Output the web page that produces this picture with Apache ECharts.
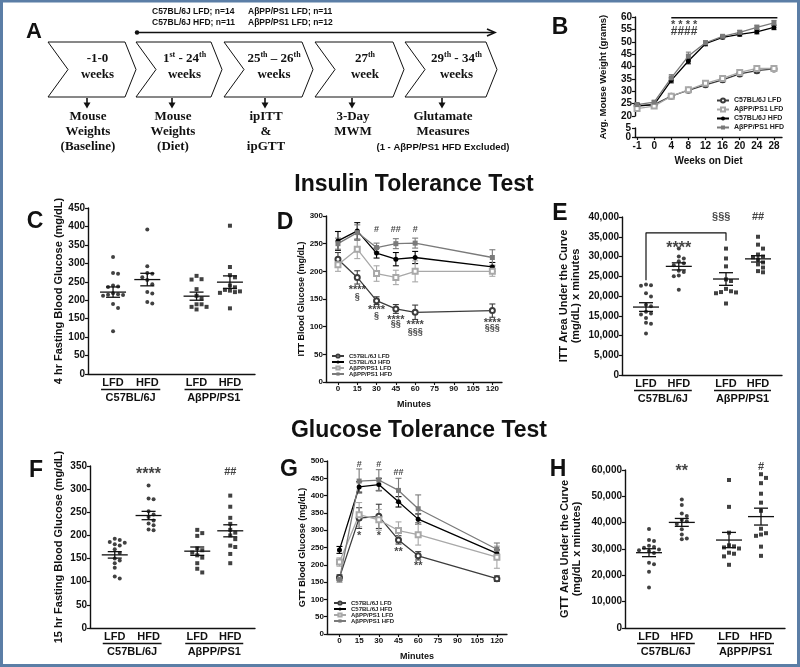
<!DOCTYPE html>
<html>
<head>
<meta charset="utf-8">
<script src="https://cdn.jsdelivr.net/npm/echarts@6/dist/echarts.min.js"></script>
<style>
html, body { margin: 0; padding: 0; background: #fff; }
#figure { width: 800px; height: 667px; }
</style>
</head>
<body>
<div id="figure"></div>
<script>
// ---------- data ----------
var groupNames = ['C57BL/6J LFD', 'C57BL/6J HFD', 'AβPP/PS1 LFD', 'AβPP/PS1 HFD'];
var dietLabels = ['LFD', 'HFD', 'LFD', 'HFD'];
var strainLabels = ['C57BL/6J', 'AβPP/PS1'];

// B: body weight
var weekLabels = ['-1', '0', '4', '8', '12', '16', '20', '24', '28'];
var weightC57Lfd = [24.2, 24.6, 28.0, 30.4, 32.6, 34.6, 37.0, 38.3, 39.0];
var weightC57LfdErr = [0.6, 0.5, 0.5, 0.6, 0.7, 0.8, 0.8, 0.9, 0.9];
var weightApLfd = [23.0, 24.0, 28.0, 30.6, 33.2, 35.2, 37.6, 39.2, 39.2];
var weightApLfdErr = [0.7, 0.6, 0.6, 0.7, 0.8, 0.8, 0.9, 1.0, 1.0];
var weightC57Hfd = [24.0, 24.6, 34.4, 42.2, 49.2, 51.8, 53.0, 54.0, 55.8];
var weightC57HfdErr = [0.5, 0.6, 1.0, 1.1, 0.8, 0.6, 0.7, 0.8, 0.9];
var weightApHfd = [24.6, 25.6, 35.4, 44.2, 49.6, 52.2, 53.8, 55.8, 57.6];
var weightApHfdErr = [0.6, 0.6, 1.3, 1.6, 0.8, 0.6, 0.8, 0.9, 1.0];
var weightLowTicks = [0, 5];
var weightAnnot = [['* * * *', 2.75, 57.6], ['####', 2.75, 53.9]];

// C: 4 hr fasting glucose
var cC57Lfd = [317, 274, 272, 240, 237, 236, 219, 216, 215, 214, 212, 190, 179, 116];
var cC57Hfd = [392, 292, 274, 272, 262, 243, 222, 218, 195, 191, 255];
var cApLfd = [266, 257, 256, 230, 212, 205, 189, 182, 175, 182, 189];
var cApHfd = [402, 290, 268, 262, 240, 235, 228, 226, 224, 222, 220, 178];
var cMean = [222, 256, 211, 249];
var cSem = [14, 17, 11, 17];

// D: ITT time course
var minutes = [0, 15, 30, 45, 60, 120];
var minuteTicks = [0, 15, 30, 45, 60, 75, 90, 105, 120];
var ittC57Lfd = [222, 189, 147, 132, 126, 129];
var ittC57LfdErr = [12, 12, 7, 8, 13, 12];
var ittC57Hfd = [255, 273, 233, 222, 225, 208];
var ittC57HfdErr = [17, 15, 9, 12, 11, 8];
var ittApLfd = [212, 240, 196, 189, 200, 200];
var ittApLfdErr = [12, 17, 14, 13, 19, 9];
var ittApHfd = [250, 270, 243, 250, 251, 225];
var ittApHfdErr = [10, 14, 8, 9, 9, 14];
var ittAnnot = [
  ['#', 30, 275], ['##', 45, 275], ['#', 60, 275],
  ['****', 15, 170], ['§', 15, 154],
  ['****', 30, 134], ['§', 30, 121],
  ['****', 45, 116], ['§§', 45, 105],
  ['****', 60, 107], ['§§§', 60, 91],
  ['****', 120, 111], ['§§§', 120, 98]
];

// E: ITT area under the curve
var eC57Lfd = [22900, 22700, 22600, 20700, 19900, 17800, 17400, 16000, 15600, 15300, 14400, 13200, 13000, 10500];
var eC57Hfd = [32000, 30000, 29500, 28800, 28300, 27800, 26400, 26100, 25200, 25000, 21600];
var eApLfd = [32000, 29500, 27500, 24200, 23800, 21800, 21200, 21000, 20900, 20700, 18100];
var eApHfd = [35000, 33000, 32000, 30500, 30000, 29800, 29200, 28500, 28000, 27200, 26300, 26000];
var eMean = [17200, 27500, 24300, 29400];
var eSem = [1100, 900, 1600, 800];
var eAnnot = [['****', 3.55, 32800], ['§§§', 6.2, 39900], ['##', 8.5, 39900]];
var eBracket = [[1.5, 24000], [1.5, 36000], [6.5, 36000], [6.5, 34000]];

// F: 15 hr fasting glucose
var fC57Lfd = [193, 190, 186, 184, 181, 178, 170, 162, 150, 146, 140, 130, 111, 107];
var fC57Hfd = [308, 280, 278, 252, 245, 240, 232, 226, 222, 213, 211];
var fApLfd = [212, 205, 199, 172, 168, 163, 157, 152, 140, 128, 120];
var fApHfd = [286, 262, 238, 225, 212, 206, 200, 192, 178, 175, 160, 140];
var fMean = [158, 243, 166, 210];
var fSem = [7, 9, 9, 13];
var fAnnot = [['****', 3.55, 338], ['##', 8.5, 337]];

// G: GTT time course
var gttC57Lfd = [163, 335, 340, 272, 226, 160];
var gttC57LfdErr = [8, 30, 35, 12, 12, 8];
var gttC57Hfd = [243, 425, 432, 382, 332, 233];
var gttC57HfdErr = [10, 15, 18, 15, 15, 10];
var gttApLfd = [208, 345, 330, 299, 287, 222];
var gttApLfdErr = [12, 35, 30, 25, 30, 32];
var gttApHfd = [158, 442, 445, 415, 362, 245];
var gttApHfdErr = [8, 35, 30, 35, 40, 18];
var gttAnnot = [
  ['#', 15, 491], ['#', 30, 491], ['##', 45, 468],
  ['*', 15, 289], ['*', 30, 289], ['**', 45, 243], ['**', 60, 203]
];

// H: GTT area under the curve
var hC57Lfd = [37600, 33400, 33000, 31200, 30800, 30500, 29800, 29500, 29200, 28500, 24800, 24200, 21400, 15400];
var hC57Hfd = [48800, 46700, 43500, 42500, 41000, 40500, 39500, 37500, 35500, 34000, 33700];
var hApLfd = [56200, 46000, 36200, 31400, 31000, 30600, 30200, 28600, 28200, 27200, 24000];
var hApHfd = [58400, 57000, 55000, 51000, 47600, 44500, 37700, 36000, 35500, 35000, 30900, 27400];
var hMean = [28600, 40100, 33400, 42300];
var hSem = [1500, 1500, 2900, 3200];
var hAnnot = [['**', 3.55, 60600], ['#', 8.5, 61000]];

// ---------- layout ----------
var FONT = 'Liberation Sans';
var INK = '#111';
var slotPos = [1.5, 3.55, 6.5, 8.5];
var grids = [
  { left: 635, top: 17, width: 147, height: 99 },   // 0 B upper
  { left: 635, top: 128, width: 147, height: 9 },   // 1 B lower
  { left: 88, top: 208, width: 167, height: 166 },  // 2 C
  { left: 326, top: 216, width: 176, height: 166 }, // 3 D
  { left: 622, top: 217, width: 160, height: 158 }, // 4 E
  { left: 90, top: 466, width: 165, height: 162 },  // 5 F
  { left: 327, top: 461, width: 180, height: 173 }, // 6 G
  { left: 625, top: 470, width: 160, height: 158 }  // 7 H
];
var lineLook = [
  { color: '#3c3c3c', symbol: 'emptyCircle' },
  { color: '#000000', symbol: 'circle' },
  { color: '#a8a8a8', symbol: 'emptyRect' },
  { color: '#7a7a7a', symbol: 'rect' }
];

function commas(v) {
  return String(v).replace(/\B(?=(\d{3})+(?!\d))/g, ',');
}

function yAx(gi, min, max, interval, extra) {
  var ax = {
    type: 'value', gridIndex: gi, min: min, max: max, interval: interval,
    axisLine: { show: true, onZero: false, lineStyle: { color: INK, width: 1.4 } },
    axisTick: { show: true, length: 3, lineStyle: { color: INK, width: 1.2 } },
    axisLabel: { fontSize: 10, fontWeight: 'bold', color: INK, margin: 3, fontFamily: FONT, showMinLabel: true, showMaxLabel: true },
    splitLine: { show: false },
    nameTextStyle: { fontSize: 11, fontWeight: 'bold', color: INK, fontFamily: FONT }
  };
  return Object.assign(ax, extra || {});
}

function xSlots(gi) {
  return {
    type: 'value', gridIndex: gi, min: 0, max: 10,
    axisLine: { show: true, onZero: false, lineStyle: { color: INK, width: 1.4 } },
    axisTick: { show: false },
    splitLine: { show: false },
    axisLabel: {
      customValues: slotPos, margin: 3, fontSize: 11, fontWeight: 'bold', color: INK, fontFamily: FONT,
      formatter: function (v) {
        var best = 0;
        slotPos.forEach(function (s, i) { if (Math.abs(s - v) < Math.abs(slotPos[best] - v)) best = i; });
        return dietLabels[best];
      }
    }
  };
}

function xMinutes(gi, min, max) {
  return {
    type: 'value', gridIndex: gi, min: min, max: max,
    name: 'Minutes', nameLocation: 'middle', nameGap: 18,
    nameTextStyle: { fontSize: 9, fontWeight: 'bold', color: INK, fontFamily: FONT },
    axisLine: { show: true, onZero: false, lineStyle: { color: INK, width: 1.3 } },
    axisTick: { show: true, length: 3, customValues: minuteTicks, lineStyle: { color: INK, width: 1.1 } },
    splitLine: { show: false },
    axisLabel: { customValues: minuteTicks, margin: 3, fontSize: 8, fontWeight: 'bold', color: INK, fontFamily: FONT }
  };
}

// simple beeswarm so that dots with similar values sit side by side
function swarm(values, slot, grid, yMax) {
  var pyPer = grid.height / yMax;
  var pxPer = grid.width / 10;
  var step = 5, dist = 4.6;
  var placed = [];
  values.slice().sort(function (a, b) { return b - a; }).forEach(function (v) {
    var py = v * pyPer;
    for (var k = 0; k < 40; k++) {
      var off = k === 0 ? 0 : Math.ceil(k / 2) * step * (k % 2 ? 1 : -1);
      var ok = placed.every(function (p) {
        var dx = p[0] - off, dy = p[1] - py;
        return dx * dx + dy * dy >= dist * dist;
      });
      if (ok) { placed.push([off, py, v]); break; }
    }
  });
  return placed.map(function (p) { return [slot + p[0] / pxPer, p[2]]; });
}

function errSeries(ai, xs, ys, errs, color, cap) {
  return {
    type: 'custom', xAxisIndex: ai, yAxisIndex: ai, silent: true, z: 2, clip: false,
    encode: { x: 0, y: [1, 2] },
    data: xs.map(function (x, i) { return [x, ys[i] - errs[i], ys[i] + errs[i]]; }),
    renderItem: function (params, api) {
      var lo = api.coord([api.value(0), api.value(1)]);
      var hi = api.coord([api.value(0), api.value(2)]);
      var s = { stroke: color, lineWidth: 1.1 };
      return {
        type: 'group', children: [
          { type: 'line', shape: { x1: lo[0], y1: lo[1], x2: hi[0], y2: hi[1] }, style: s },
          { type: 'line', shape: { x1: lo[0] - cap, y1: lo[1], x2: lo[0] + cap, y2: lo[1] }, style: s },
          { type: 'line', shape: { x1: hi[0] - cap, y1: hi[1], x2: hi[0] + cap, y2: hi[1] }, style: s }
        ]
      };
    }
  };
}

function meanSemSeries(ai, means, sems) {
  return {
    type: 'custom', xAxisIndex: ai, yAxisIndex: ai, silent: true, z: 4,
    encode: { x: 0, y: 1 },
    data: means.map(function (m, i) { return [slotPos[i], m, sems[i]]; }),
    renderItem: function (params, api) {
      var x = api.value(0), m = api.value(1), e = api.value(2);
      var c = api.coord([x, m]), lo = api.coord([x, m - e]), hi = api.coord([x, m + e]);
      var s = { stroke: INK, lineWidth: 1.3 };
      return {
        type: 'group', children: [
          { type: 'line', shape: { x1: c[0] - 13, y1: c[1], x2: c[0] + 13, y2: c[1] }, style: s },
          { type: 'line', shape: { x1: lo[0], y1: lo[1], x2: hi[0], y2: hi[1] }, style: s },
          { type: 'line', shape: { x1: lo[0] - 7, y1: lo[1], x2: lo[0] + 7, y2: lo[1] }, style: s },
          { type: 'line', shape: { x1: hi[0] - 7, y1: hi[1], x2: hi[0] + 7, y2: hi[1] }, style: s }
        ]
      };
    }
  };
}

function textSeries(ai, items, size, starSize) {
  return {
    type: 'scatter', xAxisIndex: ai, yAxisIndex: ai, silent: true, clip: false, z: 5,
    symbolSize: 1, itemStyle: { color: 'rgba(0,0,0,0)' },
    data: items.map(function (t) {
      var isStar = t[0].indexOf('*') >= 0;
      var fs = isStar ? starSize : size;
      return {
        value: [t[1], t[2]],
        label: {
          show: true, position: 'inside', formatter: t[0], fontSize: fs, fontWeight: 'bold',
          color: INK, fontFamily: FONT, offset: [0, isStar ? fs * 0.22 : 0]
        }
      };
    })
  };
}

function lineSeries(ai, name, xs, ys, look, size) {
  return {
    type: 'line', name: name, xAxisIndex: ai, yAxisIndex: ai, z: 3,
    data: xs.map(function (x, i) { return [x, ys[i]]; }),
    symbol: look.symbol, symbolSize: size, showSymbol: true,
    itemStyle: { color: look.color, borderWidth: 1.2 },
    lineStyle: { color: look.color, width: 1.3 }
  };
}

var weekIdx = weekLabels.map(function (w, i) { return i; });

var series = [];
// B
[[weightC57Lfd, weightC57LfdErr], [weightC57Hfd, weightC57HfdErr], [weightApLfd, weightApLfdErr], [weightApHfd, weightApHfdErr]]
  .forEach(function (d, i) {
    series.push(errSeries(0, weekIdx, d[0], d[1], lineLook[i].color, 2.5));
    series.push(lineSeries(0, groupNames[i], weekIdx, d[0], lineLook[i], 5));
  });
series.push({
  type: 'line', xAxisIndex: 0, yAxisIndex: 0, data: [[2, 59.7], [8.2, 59.7]], symbol: 'none',
  lineStyle: { color: INK, width: 1.3 }, silent: true, clip: false
});
series.push(textSeries(0, weightAnnot, 12, 11));

// D and G
[[ittC57Lfd, ittC57LfdErr], [ittC57Hfd, ittC57HfdErr], [ittApLfd, ittApLfdErr], [ittApHfd, ittApHfdErr]]
  .forEach(function (d, i) {
    series.push(errSeries(3, minutes, d[0], d[1], lineLook[i].color, 3));
    series.push(lineSeries(3, groupNames[i], minutes, d[0], lineLook[i], 5));
  });
series.push(textSeries(3, ittAnnot, 9, 11));
[[gttC57Lfd, gttC57LfdErr], [gttC57Hfd, gttC57HfdErr], [gttApLfd, gttApLfdErr], [gttApHfd, gttApHfdErr]]
  .forEach(function (d, i) {
    series.push(errSeries(6, minutes, d[0], d[1], lineLook[i].color, 3));
    series.push(lineSeries(6, groupNames[i], minutes, d[0], lineLook[i], 5));
  });
series.push(textSeries(6, gttAnnot, 9, 11));

// scatter panels C, E, F, H
var scatterPanels = [
  { ai: 2, groups: [cC57Lfd, cC57Hfd, cApLfd, cApHfd], mean: cMean, sem: cSem, yMax: 450, annot: [] },
  { ai: 4, groups: [eC57Lfd, eC57Hfd, eApLfd, eApHfd], mean: eMean, sem: eSem, yMax: 40000, annot: eAnnot },
  { ai: 5, groups: [fC57Lfd, fC57Hfd, fApLfd, fApHfd], mean: fMean, sem: fSem, yMax: 350, annot: fAnnot },
  { ai: 7, groups: [hC57Lfd, hC57Hfd, hApLfd, hApHfd], mean: hMean, sem: hSem, yMax: 60000, annot: hAnnot }
];
scatterPanels.forEach(function (p) {
  p.groups.forEach(function (vals, gi) {
    series.push({
      type: 'scatter', xAxisIndex: p.ai, yAxisIndex: p.ai, silent: true, z: 3,
      symbol: gi < 2 ? 'circle' : 'rect', symbolSize: 4,
      itemStyle: { color: INK },
      data: swarm(vals, slotPos[gi], grids[p.ai], p.yMax)
    });
  });
  series.push(meanSemSeries(p.ai, p.mean, p.sem));
  series.push(textSeries(p.ai, p.annot, 11, 16));
});
series.push({
  type: 'line', xAxisIndex: 4, yAxisIndex: 4, data: eBracket, symbol: 'none',
  lineStyle: { color: INK, width: 1.2 }, silent: true
});

var weekAxis = {
  type: 'value', min: -0.12, max: 8.47,
  axisLine: { show: true, onZero: false, lineStyle: { color: INK, width: 1.4 } },
  axisTick: { show: true, length: 3, customValues: weekIdx, lineStyle: { color: INK, width: 1.2 } },
  splitLine: { show: false },
  axisLabel: {
    customValues: weekIdx, margin: 4, fontSize: 10, fontWeight: 'bold', color: INK, fontFamily: FONT,
    formatter: function (v) { return weekLabels[Math.round(v)]; }
  },
  name: 'Weeks on Diet', nameLocation: 'middle', nameGap: 19,
  nameTextStyle: { fontSize: 10, fontWeight: 'bold', color: INK, fontFamily: FONT }
};

var legendBase = {
  orient: 'vertical', selectedMode: false, padding: 0, itemWidth: 12, itemHeight: 5,
  textStyle: { fontSize: 7, fontWeight: 'bold', color: '#222', fontFamily: FONT }
};

var option = {
  animation: false,
  backgroundColor: '#fff',
  textStyle: { fontFamily: FONT },
  grid: grids.map(function (g) { return Object.assign({ containLabel: false }, g); }),
  xAxis: [
    Object.assign({}, weekAxis, { gridIndex: 0, show: false }),
    Object.assign({}, weekAxis, { gridIndex: 1 }),
    xSlots(2),
    xMinutes(3, -9.3, 127.5),
    xSlots(4),
    xSlots(5),
    xMinutes(6, -9.5, 127.7),
    xSlots(7)
  ],
  yAxis: [
    yAx(0, 20, 60, 5),
    yAx(1, 0, 5, 5, { axisLabel: { show: false } }),
    yAx(2, 0, 450, 50, { name: '4 hr Fasting Blood Glucose (mg/dL)', nameLocation: 'middle', nameGap: 24 }),
    yAx(3, 0, 300, 50, {
      name: 'ITT Blood Glucose (mg/dL)', nameLocation: 'middle', nameGap: 19,
      axisLabel: { fontSize: 8, fontWeight: 'bold', color: INK, margin: 3, fontFamily: FONT },
      nameTextStyle: { fontSize: 9, fontWeight: 'bold', color: INK, fontFamily: FONT }
    }),
    yAx(4, 0, 40000, 5000, {
      name: 'ITT Area Under the Curve\n(mg/dL) x minutes', nameLocation: 'middle', nameGap: 40,
      axisLabel: { fontSize: 10, fontWeight: 'bold', color: INK, margin: 3, fontFamily: FONT, formatter: commas },
      nameTextStyle: { fontSize: 11, lineHeight: 12, fontWeight: 'bold', color: INK, fontFamily: FONT }
    }),
    yAx(5, 0, 350, 50, { name: '15 hr Fasting Blood Glucose (mg/dL)', nameLocation: 'middle', nameGap: 26 }),
    yAx(6, 0, 500, 50, {
      name: 'GTT Blood Glucose (mg/dL)', nameLocation: 'middle', nameGap: 19,
      axisLabel: { fontSize: 8, fontWeight: 'bold', color: INK, margin: 3, fontFamily: FONT },
      nameTextStyle: { fontSize: 9, fontWeight: 'bold', color: INK, fontFamily: FONT }
    }),
    yAx(7, 0, 60000, 10000, {
      name: 'GTT Area Under the Curve\n(mg/dL x minutes)', nameLocation: 'middle', nameGap: 42,
      axisLabel: { fontSize: 10, fontWeight: 'bold', color: INK, margin: 3, fontFamily: FONT, formatter: commas },
      nameTextStyle: { fontSize: 11, lineHeight: 12, fontWeight: 'bold', color: INK, fontFamily: FONT }
    })
  ],
  legend: [
    Object.assign({}, legendBase, {
      left: 716, top: 97, itemGap: 2,
      data: [groupNames[0], groupNames[2], groupNames[1], groupNames[3]]
    }),
    Object.assign({}, legendBase, {
      left: 331, top: 353, itemGap: 0, itemHeight: 4,
      textStyle: { fontSize: 6, fontWeight: 'bold', color: '#222', fontFamily: FONT },
      data: groupNames.slice()
    }),
    Object.assign({}, legendBase, {
      left: 333, top: 600, itemGap: 0, itemHeight: 4,
      textStyle: { fontSize: 6, fontWeight: 'bold', color: '#222', fontFamily: FONT },
      data: groupNames.slice()
    })
  ],
  series: series
};

var chart = echarts.init(document.getElementById('figure'), null, { renderer: 'canvas' });
chart.setOption(option);

// ---------- drawn elements (panel A, titles, letters, group labels) ----------
var SERIF = 'Liberation Serif';
var g = [];
function txt(x, y, text, size, opts) {
  opts = opts || {};
  g.push({
    type: 'text', x: x, y: y, rotation: opts.rotation || 0, z: 10,
    style: {
      text: text, fill: opts.color || INK, align: opts.align || 'center', verticalAlign: 'middle',
      font: 'bold ' + size + 'px ' + (opts.family || FONT), rich: opts.rich, lineHeight: opts.lineHeight
    }
  });
}
function seg(x1, y1, x2, y2, w) {
  g.push({ type: 'line', z: 10, shape: { x1: x1, y1: y1, x2: x2, y2: y2 }, style: { stroke: INK, lineWidth: w || 1.2 } });
}

// frame
g.push({ type: 'rect', z: 20, shape: { x: 1.5, y: 1, width: 797, height: 664.5 }, style: { fill: 'none', stroke: '#5b7ea6', lineWidth: 3 } });

// panel A
txt(34, 32, 'A', 22);
txt(152, 12, 'C57BL/6J LFD; n=14', 8.5, { align: 'left' });
txt(152, 23, 'C57BL/6J HFD; n=11', 8.5, { align: 'left' });
txt(248, 12, 'AβPP/PS1 LFD; n=11', 8.5, { align: 'left' });
txt(248, 23, 'AβPP/PS1 LFD; n=12', 8.5, { align: 'left' });
g.push({ type: 'circle', z: 10, shape: { cx: 137, cy: 32.5, r: 2.2 }, style: { fill: INK } });
seg(137, 32.5, 494, 32.5, 1.6);
g.push({ type: 'polyline', z: 10, shape: { points: [[487, 29], [495, 32.5], [487, 36]] }, style: { stroke: INK, lineWidth: 1.6, fill: 'none' } });

var chevLeft = [48, 136, 224, 315, 405];
var chevTip = [136, 222, 313, 404, 497];
var chevText = [
  '{n|-1-0}',
  '{n|1}{s|st}{n| - 24}{s|th}',
  '{n|25}{s|th}{n| – 26}{s|th}',
  '{n|27}{s|th}',
  '{n|29}{s|th}{n| - 34}{s|th}'
];
var chevText2 = ['weeks', 'weeks', 'weeks', 'week', 'weeks'];
var arrowX = [87, 172, 265, 352, 442];
var stepText = [
  ['Mouse', 'Weights', '(Baseline)'],
  ['Mouse', 'Weights', '(Diet)'],
  ['ipITT', '&', 'ipGTT'],
  ['3-Day', 'MWM'],
  ['Glutamate', 'Measures']
];
var richSup = {
  n: { font: 'bold 13px ' + SERIF, fill: INK, lineHeight: 16 },
  s: { font: 'bold 8px ' + SERIF, fill: INK, lineHeight: 16, verticalAlign: 'top' }
};
chevLeft.forEach(function (L, i) {
  var T = chevTip[i], top = 42, bot = 97, mid = 69.5;
  g.push({
    type: 'polygon', z: 9,
    shape: { points: [[L, top], [T - 11, top], [T, mid], [T - 11, bot], [L, bot], [L + 20, mid]] },
    style: { fill: '#fff', stroke: INK, lineWidth: 1 }
  });
  var cx = (L + 20 + T - 11) / 2 + 1;
  txt(cx, 59, chevText[i], 13, { family: SERIF, rich: richSup });
  txt(cx, 75, chevText2[i], 13, { family: SERIF });
  var ax = arrowX[i];
  seg(ax, 98, ax, 106, 1.6);
  g.push({ type: 'polygon', z: 10, shape: { points: [[ax - 3.5, 102.5], [ax + 3.5, 102.5], [ax, 108.5]] }, style: { fill: INK } });
  stepText[i].forEach(function (t, k) { txt(ax + 1, 117 + k * 15, t, 13, { family: SERIF }); });
});
txt(443, 147, '(1 - AβPP/PS1 HFD Excluded)', 9.5);

// section titles
txt(414, 185, 'Insulin Tolerance Test', 23);
txt(419, 431, 'Glucose Tolerance Test', 23);

// panel letters
[['B', 560, 28], ['C', 35, 222], ['D', 285, 223], ['E', 560, 214], ['F', 36, 471], ['G', 289, 470], ['H', 558, 470]]
  .forEach(function (l) { txt(l[1], l[2], l[0], 23); });

// B y-axis title spans both axis pieces
txt(603, 77, 'Avg. Mouse Weight (grams)', 9.5, { rotation: Math.PI / 2 });

// tick labels of the short lower piece of the broken B axis
weightLowTicks.forEach(function (v) {
  var py = chart.convertToPixel({ yAxisIndex: 1 }, v);
  txt(631, py, String(v), 10, { align: 'right' });
});

// strain labels under the diet labels
scatterPanels.forEach(function (p) {
  var px = slotPos.map(function (s) { return chart.convertToPixel({ xAxisIndex: p.ai }, s); });
  var base = chart.convertToPixel({ yAxisIndex: p.ai }, 0);
  [[0, 1], [2, 3]].forEach(function (pair, k) {
    var a = px[pair[0]] - 12, b = px[pair[1]] + 13;
    seg(a, base + 15.5, b, base + 15.5, 1.3);
    txt((a + b) / 2, base + 24, strainLabels[k], 11);
  });
});

chart.setOption({ graphic: { elements: g } });
</script>
</body>
</html>
